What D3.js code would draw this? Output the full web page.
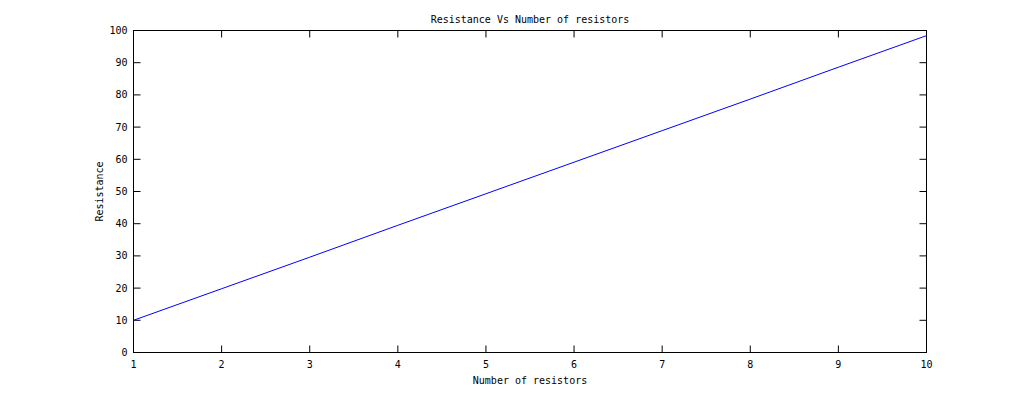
<!DOCTYPE html>
<html><head><meta charset="utf-8">
<script src="https://cdn.jsdelivr.net/npm/d3@7"></script>
<style>body{margin:0;background:#fff}svg{display:block}text{font-family:"DejaVu Sans Mono",monospace;font-size:10px;fill:#000}</style>
</head><body><svg id="c" width="1023" height="397"></svg>
<script>
const resistors = [1,2,3,4,5,6,7,8,9,10];
const resistance = [10,19.8,29.6,39.5,49.3,59.1,68.9,78.7,88.6,98.4];
const xTicks = [1,2,3,4,5,6,7,8,9,10];
const yTicks = [0,10,20,30,40,50,60,70,80,90,100];
const titleText = "Resistance Vs Number of resistors";
const xLabel = "Number of resistors";
const yLabel = "Resistance";

const svg = d3.select("#c");
const L=133.5, R=926.5, T=30.5, B=352.5;
const x = d3.scaleLinear().domain([1,10]).range([L,R]);
const y = d3.scaleLinear().domain([0,100]).range([B,T]);
const tl = 7;

const g = svg.append("g");
xTicks.forEach(v=>{
  g.append("line").attr("x1",x(v)).attr("x2",x(v)).attr("y1",B).attr("y2",B-tl).attr("stroke","#000");
  g.append("line").attr("x1",x(v)).attr("x2",x(v)).attr("y1",T).attr("y2",T+tl).attr("stroke","#000");
  g.append("text").attr("x",x(v)).attr("y",B+15).attr("text-anchor","middle").text(v);
});
yTicks.forEach(v=>{
  g.append("line").attr("x1",L).attr("x2",L+tl).attr("y1",y(v)).attr("y2",y(v)).attr("stroke","#000");
  g.append("line").attr("x1",R).attr("x2",R-tl).attr("y1",y(v)).attr("y2",y(v)).attr("stroke","#000");
  g.append("text").attr("x",L-6).attr("y",y(v)+3.5).attr("text-anchor","end").text(v);
});
g.append("rect").attr("x",L).attr("y",T).attr("width",R-L).attr("height",B-T).attr("fill","none").attr("stroke","#000");

svg.append("path").datum(resistors.map((r,i)=>[r,resistance[i]]))
  .attr("d",d3.line().x(d=>x(d[0])).y(d=>y(d[1])))
  .attr("fill","none").attr("stroke","#0000ff").attr("stroke-width",1);

svg.append("text").attr("x",(L+R)/2).attr("y",23).attr("text-anchor","middle").text(titleText);
svg.append("text").attr("x",(L+R)/2).attr("y",384).attr("text-anchor","middle").text(xLabel);
svg.append("text").attr("transform",`translate(103,${(T+B)/2}) rotate(-90)`).attr("text-anchor","middle").text(yLabel);
</script></body></html>
